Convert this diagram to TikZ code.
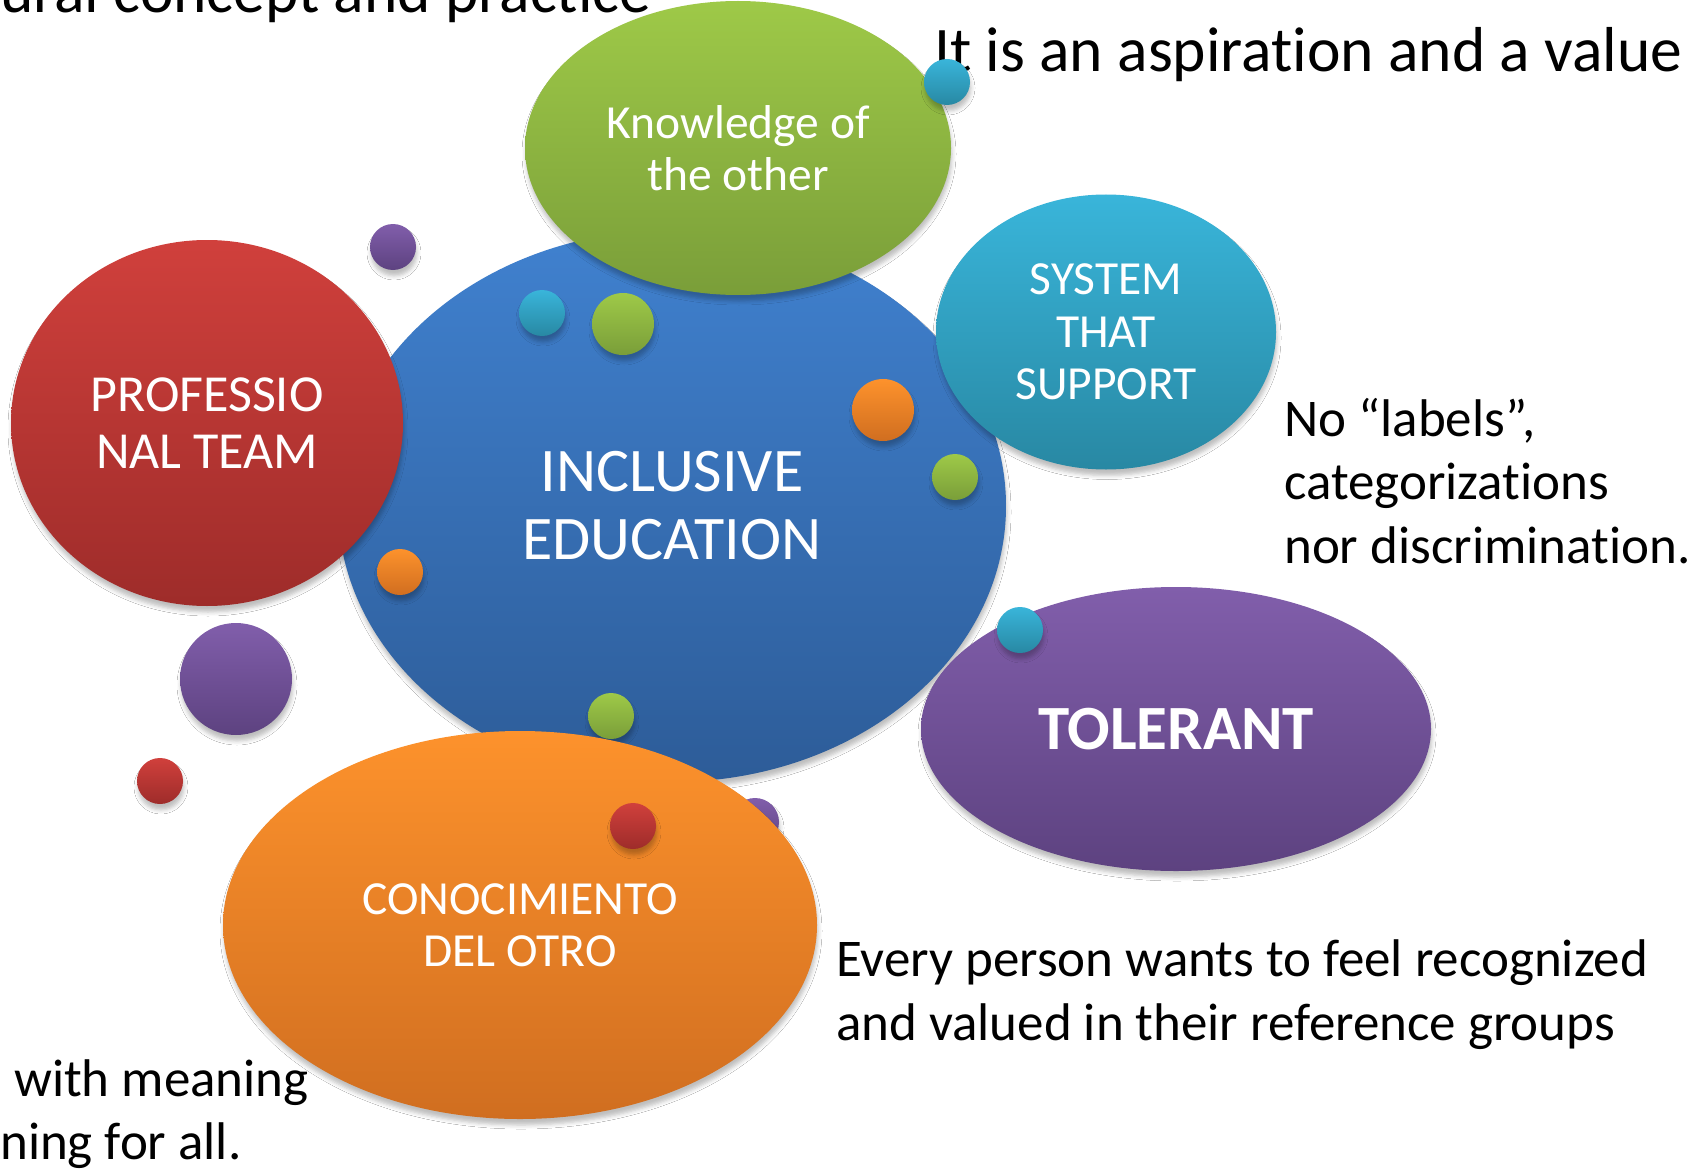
\documentclass[tikz,border=0pt]{standalone}
\usepackage{fontspec}
\setmainfont{Carlito}[Ligatures={NoCommon}]
\usetikzlibrary{shapes.geometric,shadows.blur}

% bubble colours: lighter at the top, darker at the bottom
\definecolor{blueT}{RGB}{64,129,207}
\definecolor{blueB}{RGB}{45,92,152}
\definecolor{greenT}{RGB}{158,201,72}
\definecolor{greenB}{RGB}{122,158,57}
\definecolor{redT}{RGB}{208,64,60}
\definecolor{redB}{RGB}{158,44,42}
\definecolor{cyanT}{RGB}{57,181,218}
\definecolor{cyanB}{RGB}{40,136,163}
\definecolor{purpT}{RGB}{129,94,171}
\definecolor{purpB}{RGB}{93,66,128}
\definecolor{oranT}{RGB}{253,146,44}
\definecolor{oranB}{RGB}{208,110,32}

\tikzset{
  softshadow/.style={blur shadow={shadow xshift=1pt, shadow yshift=-6pt,
      shadow blur radius=4pt, shadow opacity=25}},
  bubble/.style={ellipse, inner sep=0pt, align=center, text=white,
      softshadow, font=\fontsize{47.5}{52.5}\selectfont},
  dot/.style={circle, inner sep=0pt, minimum size=#1, softshadow},
  blueball/.style={top color=blueT, bottom color=blueB, draw=none},
  greenball/.style={top color=greenT, bottom color=greenB, draw=none},
  redball/.style={top color=redT, bottom color=redB, draw=none},
  cyanball/.style={top color=cyanT, bottom color=cyanB, draw=none},
  purpball/.style={top color=purpT, bottom color=purpB, draw=none},
  oranball/.style={top color=oranT, bottom color=oranB, draw=none},
  note/.style={inner sep=0pt, align=left, text=black,
      font=\fontsize{53}{63.5}\selectfont},
  bignote/.style={inner sep=0pt, text=black,
      font=\fontsize{63.5}{77}\selectfont},
}

\begin{document}
\begin{tikzpicture}[x=1pt,y=-1pt]
\useasboundingbox[fill=white] (0,0) rectangle (1691,1169);

% headline fragments
\node[bignote, anchor=base west] (title) at (0,13) {ural concept and practice};
\node[bignote, anchor=base west] (aspire) at (934,72) {It is an aspiration and a value};

% central bubble
\node[bubble, blueball, minimum width=668pt, minimum height=552pt,
      font=\fontsize{62}{68}\selectfont] (incl) at (672,506)
      {INCLUSIVE\\EDUCATION};

% dots lying on the central bubble, under the outer bubbles
\node[dot=46pt, greenball] (d10) at (611,716) {};
\node[dot=48pt, purpball] (d12) at (755,822) {};

% outer bubbles
\node[bubble, redball, minimum width=392pt, minimum height=366pt,
      font=\fontsize{52}{57.5}\selectfont] (prof) at (207,423)
      {PROFESSIO\\NAL TEAM};
\node[bubble, greenball, minimum width=426pt, minimum height=294pt] (know) at (738,148)
      {Knowledge of\\the other};
\node[bubble, cyanball, minimum width=340pt, minimum height=275pt] (sys) at (1106,332)
      {SYSTEM\\THAT\\SUPPORT};
\node[bubble, purpball, minimum width=510pt, minimum height=284pt,
      font=\fontsize{63}{69}\selectfont\bfseries] (tol) at (1176,729)
      {TOLERANT};
\node[bubble, oranball, minimum width=594pt, minimum height=388pt] (cono) at (520,925)
      {CONOCIMIENTO\\DEL OTRO};

% scattered dots
\node[dot=46pt, cyanball] (d1) at (947,82) {};
\node[dot=46pt, purpball] (d2) at (393,247) {};
\node[dot=46pt, cyanball] (d3) at (542,313) {};
\node[dot=62pt, greenball] (d4) at (623,324) {};
\node[dot=62pt, oranball] (d5) at (883,410) {};
\node[dot=46pt, greenball] (d6) at (955,477) {};
\node[dot=46pt, oranball] (d7) at (400,572) {};
\node[dot=112pt, purpball] (d8) at (236,679) {};
\node[dot=46pt, cyanball] (d9) at (1020,630) {};
\node[dot=46pt, redball] (d11) at (160,781) {};
\node[dot=46pt, redball] (d13) at (633,826) {};

% side notes (anchored on the baseline of their last line)
\node[note, anchor=base west] (labels) at (1284,563)
      {No “labels”,\\categorizations\\nor discrimination.};
\node[note, anchor=base west] (every) at (836,1040)
      {Every person wants to feel recognized\\and valued in their reference groups};
\node[note, anchor=base west] (meaning) at (14,1096) {with meaning};
\node[note, anchor=base west] (forall) at (0,1159) {ning for all.};
\end{tikzpicture}
\end{document}
